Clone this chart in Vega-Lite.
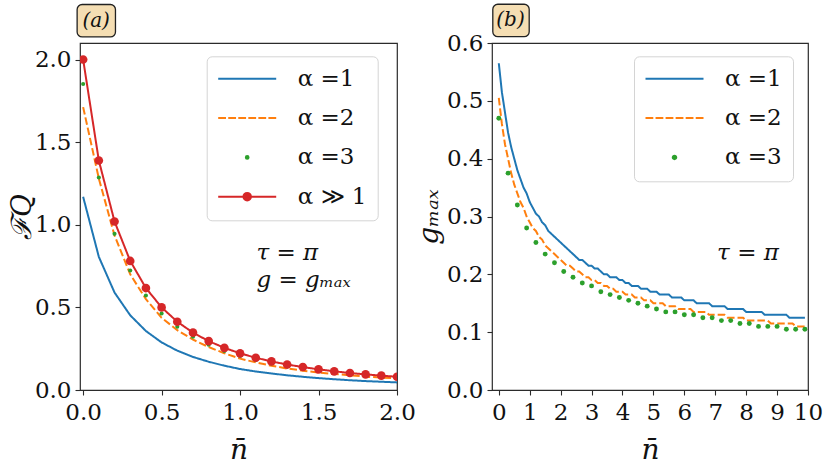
{
  "$schema": "https://vega.github.io/schema/vega-lite/v6.json",
  "padding": {"left": 7, "top": 3, "right": 0, "bottom": 0},
  "background": "white",
  "bounds": "flush",
  "spacing": 95,
  "config": {
    "font": "DejaVu Serif",
    "view": {"stroke": "#2b2b2b", "strokeWidth": 1.2},
    "axis": {
      "grid": false, "domain": false, "tickColor": "#2b2b2b", "tickSize": 5, "tickWidth": 1.1,
      "labelFont": "DejaVu Serif", "labelFontSize": 23, "labelColor": "#111", "labelPadding": 4,
      "labelFlush": false, "labelOverlap": false,
      "titleFont": "DejaVu Serif", "titleFontSize": 28, "titleFontWeight": "normal", "titleFontStyle": "italic", "titleColor": "#111"
    },
    "axisX": {"titlePadding": 12, "labelPadding": 6},
    "axisY": {"titlePadding": -2},
    "legend": {
      "orient": "none", "padding": 11,
      "labelFont": "DejaVu Serif", "labelFontSize": 23, "labelColor": "#111",
      "labelOffset": 39, "symbolOffset": 18, "symbolSize": 400, "symbolStrokeWidth": 2, "symbolOpacity": 1,
      "rowPadding": 15.3, "strokeColor": "#d4d4d4", "fillColor": "rgba(255,255,255,0.8)", "cornerRadius": 5
    }
  },
  "datasets": {
    "a": [
      {"s": "α =1", "n": 0, "v": 1.169}, {"s": "α =1", "n": 0.1, "v": 0.806}, {"s": "α =1", "n": 0.2, "v": 0.59},
      {"s": "α =1", "n": 0.3, "v": 0.452}, {"s": "α =1", "n": 0.4, "v": 0.357}, {"s": "α =1", "n": 0.5, "v": 0.288},
      {"s": "α =1", "n": 0.6, "v": 0.238}, {"s": "α =1", "n": 0.7, "v": 0.2}, {"s": "α =1", "n": 0.8, "v": 0.171},
      {"s": "α =1", "n": 0.9, "v": 0.147}, {"s": "α =1", "n": 1.0, "v": 0.127}, {"s": "α =1", "n": 1.1, "v": 0.112},
      {"s": "α =1", "n": 1.2, "v": 0.1}, {"s": "α =1", "n": 1.3, "v": 0.089}, {"s": "α =1", "n": 1.4, "v": 0.08},
      {"s": "α =1", "n": 1.5, "v": 0.072}, {"s": "α =1", "n": 1.6, "v": 0.065}, {"s": "α =1", "n": 1.7, "v": 0.059},
      {"s": "α =1", "n": 1.8, "v": 0.054}, {"s": "α =1", "n": 1.9, "v": 0.05}, {"s": "α =1", "n": 2.0, "v": 0.046},
      {"s": "α =2", "n": 0, "v": 1.712}, {"s": "α =2", "n": 0.1, "v": 1.28}, {"s": "α =2", "n": 0.2, "v": 0.935},
      {"s": "α =2", "n": 0.3, "v": 0.7}, {"s": "α =2", "n": 0.4, "v": 0.55}, {"s": "α =2", "n": 0.5, "v": 0.437},
      {"s": "α =2", "n": 0.6, "v": 0.362}, {"s": "α =2", "n": 0.7, "v": 0.305}, {"s": "α =2", "n": 0.8, "v": 0.26},
      {"s": "α =2", "n": 0.9, "v": 0.222}, {"s": "α =2", "n": 1.0, "v": 0.19}, {"s": "α =2", "n": 1.1, "v": 0.167},
      {"s": "α =2", "n": 1.2, "v": 0.147}, {"s": "α =2", "n": 1.3, "v": 0.13}, {"s": "α =2", "n": 1.4, "v": 0.117},
      {"s": "α =2", "n": 1.5, "v": 0.106}, {"s": "α =2", "n": 1.6, "v": 0.097}, {"s": "α =2", "n": 1.7, "v": 0.089},
      {"s": "α =2", "n": 1.8, "v": 0.081}, {"s": "α =2", "n": 1.9, "v": 0.075}, {"s": "α =2", "n": 2.0, "v": 0.07},
      {"s": "α =3", "n": 0, "v": 1.852}, {"s": "α =3", "n": 0.1, "v": 1.286}, {"s": "α =3", "n": 0.2, "v": 0.945},
      {"s": "α =3", "n": 0.3, "v": 0.723}, {"s": "α =3", "n": 0.4, "v": 0.572}, {"s": "α =3", "n": 0.5, "v": 0.463},
      {"s": "α =3", "n": 0.6, "v": 0.383}, {"s": "α =3", "n": 0.7, "v": 0.322}, {"s": "α =3", "n": 0.8, "v": 0.274},
      {"s": "α =3", "n": 0.9, "v": 0.236}, {"s": "α =3", "n": 1.0, "v": 0.206}, {"s": "α =3", "n": 1.1, "v": 0.181},
      {"s": "α =3", "n": 1.2, "v": 0.16}, {"s": "α =3", "n": 1.3, "v": 0.143}, {"s": "α =3", "n": 1.4, "v": 0.128},
      {"s": "α =3", "n": 1.5, "v": 0.116}, {"s": "α =3", "n": 1.6, "v": 0.105}, {"s": "α =3", "n": 1.7, "v": 0.096},
      {"s": "α =3", "n": 1.8, "v": 0.0875}, {"s": "α =3", "n": 1.9, "v": 0.08}, {"s": "α =3", "n": 2.0, "v": 0.074},
      {"s": "α ≫ 1", "n": 0, "v": 2.0}, {"s": "α ≫ 1", "n": 0.1, "v": 1.389}, {"s": "α ≫ 1", "n": 0.2, "v": 1.02},
      {"s": "α ≫ 1", "n": 0.3, "v": 0.781}, {"s": "α ≫ 1", "n": 0.4, "v": 0.617}, {"s": "α ≫ 1", "n": 0.5, "v": 0.5},
      {"s": "α ≫ 1", "n": 0.6, "v": 0.413}, {"s": "α ≫ 1", "n": 0.7, "v": 0.347}, {"s": "α ≫ 1", "n": 0.8, "v": 0.296},
      {"s": "α ≫ 1", "n": 0.9, "v": 0.255}, {"s": "α ≫ 1", "n": 1.0, "v": 0.222}, {"s": "α ≫ 1", "n": 1.1, "v": 0.195},
      {"s": "α ≫ 1", "n": 1.2, "v": 0.173}, {"s": "α ≫ 1", "n": 1.3, "v": 0.154}, {"s": "α ≫ 1", "n": 1.4, "v": 0.139},
      {"s": "α ≫ 1", "n": 1.5, "v": 0.125}, {"s": "α ≫ 1", "n": 1.6, "v": 0.113}, {"s": "α ≫ 1", "n": 1.7, "v": 0.103},
      {"s": "α ≫ 1", "n": 1.8, "v": 0.0945}, {"s": "α ≫ 1", "n": 1.9, "v": 0.0868}, {"s": "α ≫ 1", "n": 2.0, "v": 0.08}
    ],
    "b": [
      {"s": "α =1", "n": 0, "v": 0.565}, {"s": "α =1", "n": 0.1, "v": 0.515}, {"s": "α =1", "n": 0.2, "v": 0.48}, {"s": "α =1", "n": 0.3, "v": 0.445}, {"s": "α =1", "n": 0.4, "v": 0.42},
      {"s": "α =1", "n": 0.5, "v": 0.4}, {"s": "α =1", "n": 0.6, "v": 0.38}, {"s": "α =1", "n": 0.7, "v": 0.365}, {"s": "α =1", "n": 0.8, "v": 0.35}, {"s": "α =1", "n": 0.9, "v": 0.34},
      {"s": "α =1", "n": 1.0, "v": 0.325}, {"s": "α =1", "n": 1.1, "v": 0.315}, {"s": "α =1", "n": 1.2, "v": 0.305}, {"s": "α =1", "n": 1.3, "v": 0.3}, {"s": "α =1", "n": 1.4, "v": 0.29},
      {"s": "α =1", "n": 1.5, "v": 0.285}, {"s": "α =1", "n": 1.6, "v": 0.275}, {"s": "α =1", "n": 1.7, "v": 0.27}, {"s": "α =1", "n": 1.8, "v": 0.265}, {"s": "α =1", "n": 1.9, "v": 0.26},
      {"s": "α =1", "n": 2.0, "v": 0.255}, {"s": "α =1", "n": 2.1, "v": 0.25}, {"s": "α =1", "n": 2.2, "v": 0.245}, {"s": "α =1", "n": 2.3, "v": 0.24}, {"s": "α =1", "n": 2.4, "v": 0.235},
      {"s": "α =1", "n": 2.5, "v": 0.23}, {"s": "α =1", "n": 2.6, "v": 0.225}, {"s": "α =1", "n": 2.7, "v": 0.225}, {"s": "α =1", "n": 2.8, "v": 0.22}, {"s": "α =1", "n": 2.9, "v": 0.215},
      {"s": "α =1", "n": 3.0, "v": 0.215}, {"s": "α =1", "n": 3.1, "v": 0.21}, {"s": "α =1", "n": 3.2, "v": 0.21}, {"s": "α =1", "n": 3.3, "v": 0.205}, {"s": "α =1", "n": 3.4, "v": 0.2},
      {"s": "α =1", "n": 3.5, "v": 0.2}, {"s": "α =1", "n": 3.6, "v": 0.195}, {"s": "α =1", "n": 3.7, "v": 0.195}, {"s": "α =1", "n": 3.8, "v": 0.195}, {"s": "α =1", "n": 3.9, "v": 0.19},
      {"s": "α =1", "n": 4.0, "v": 0.19}, {"s": "α =1", "n": 4.1, "v": 0.185}, {"s": "α =1", "n": 4.2, "v": 0.185}, {"s": "α =1", "n": 4.3, "v": 0.18}, {"s": "α =1", "n": 4.4, "v": 0.18},
      {"s": "α =1", "n": 4.5, "v": 0.18}, {"s": "α =1", "n": 4.6, "v": 0.175}, {"s": "α =1", "n": 4.7, "v": 0.175}, {"s": "α =1", "n": 4.8, "v": 0.175}, {"s": "α =1", "n": 4.9, "v": 0.17},
      {"s": "α =1", "n": 5.0, "v": 0.17}, {"s": "α =1", "n": 5.1, "v": 0.17}, {"s": "α =1", "n": 5.2, "v": 0.165}, {"s": "α =1", "n": 5.3, "v": 0.165}, {"s": "α =1", "n": 5.4, "v": 0.165},
      {"s": "α =1", "n": 5.5, "v": 0.165}, {"s": "α =1", "n": 5.6, "v": 0.16}, {"s": "α =1", "n": 5.7, "v": 0.16}, {"s": "α =1", "n": 5.8, "v": 0.16}, {"s": "α =1", "n": 5.9, "v": 0.16},
      {"s": "α =1", "n": 6.0, "v": 0.155}, {"s": "α =1", "n": 6.1, "v": 0.155}, {"s": "α =1", "n": 6.2, "v": 0.155}, {"s": "α =1", "n": 6.3, "v": 0.155}, {"s": "α =1", "n": 6.4, "v": 0.15},
      {"s": "α =1", "n": 6.5, "v": 0.15}, {"s": "α =1", "n": 6.6, "v": 0.15}, {"s": "α =1", "n": 6.7, "v": 0.15}, {"s": "α =1", "n": 6.8, "v": 0.15}, {"s": "α =1", "n": 6.9, "v": 0.145},
      {"s": "α =1", "n": 7.0, "v": 0.145}, {"s": "α =1", "n": 7.1, "v": 0.145}, {"s": "α =1", "n": 7.2, "v": 0.145}, {"s": "α =1", "n": 7.3, "v": 0.145}, {"s": "α =1", "n": 7.4, "v": 0.14},
      {"s": "α =1", "n": 7.5, "v": 0.14}, {"s": "α =1", "n": 7.6, "v": 0.14}, {"s": "α =1", "n": 7.7, "v": 0.14}, {"s": "α =1", "n": 7.8, "v": 0.14}, {"s": "α =1", "n": 7.9, "v": 0.14},
      {"s": "α =1", "n": 8.0, "v": 0.135}, {"s": "α =1", "n": 8.1, "v": 0.135}, {"s": "α =1", "n": 8.2, "v": 0.135}, {"s": "α =1", "n": 8.3, "v": 0.135}, {"s": "α =1", "n": 8.4, "v": 0.135},
      {"s": "α =1", "n": 8.5, "v": 0.135}, {"s": "α =1", "n": 8.6, "v": 0.13}, {"s": "α =1", "n": 8.7, "v": 0.13}, {"s": "α =1", "n": 8.8, "v": 0.13}, {"s": "α =1", "n": 8.9, "v": 0.13},
      {"s": "α =1", "n": 9.0, "v": 0.13}, {"s": "α =1", "n": 9.1, "v": 0.13}, {"s": "α =1", "n": 9.2, "v": 0.13}, {"s": "α =1", "n": 9.3, "v": 0.13}, {"s": "α =1", "n": 9.4, "v": 0.125},
      {"s": "α =1", "n": 9.5, "v": 0.125}, {"s": "α =1", "n": 9.6, "v": 0.125}, {"s": "α =1", "n": 9.7, "v": 0.125}, {"s": "α =1", "n": 9.8, "v": 0.125}, {"s": "α =1", "n": 9.9, "v": 0.125},
      {"s": "α =2", "n": 0, "v": 0.505}, {"s": "α =2", "n": 0.1, "v": 0.46}, {"s": "α =2", "n": 0.2, "v": 0.425}, {"s": "α =2", "n": 0.3, "v": 0.4}, {"s": "α =2", "n": 0.4, "v": 0.375},
      {"s": "α =2", "n": 0.5, "v": 0.355}, {"s": "α =2", "n": 0.6, "v": 0.34}, {"s": "α =2", "n": 0.7, "v": 0.325}, {"s": "α =2", "n": 0.8, "v": 0.315}, {"s": "α =2", "n": 0.9, "v": 0.3},
      {"s": "α =2", "n": 1.0, "v": 0.29}, {"s": "α =2", "n": 1.1, "v": 0.28}, {"s": "α =2", "n": 1.2, "v": 0.275}, {"s": "α =2", "n": 1.3, "v": 0.265}, {"s": "α =2", "n": 1.4, "v": 0.26},
      {"s": "α =2", "n": 1.5, "v": 0.25}, {"s": "α =2", "n": 1.6, "v": 0.245}, {"s": "α =2", "n": 1.7, "v": 0.24}, {"s": "α =2", "n": 1.8, "v": 0.235}, {"s": "α =2", "n": 1.9, "v": 0.23},
      {"s": "α =2", "n": 2.0, "v": 0.225}, {"s": "α =2", "n": 2.1, "v": 0.22}, {"s": "α =2", "n": 2.2, "v": 0.215}, {"s": "α =2", "n": 2.3, "v": 0.215}, {"s": "α =2", "n": 2.4, "v": 0.21},
      {"s": "α =2", "n": 2.5, "v": 0.205}, {"s": "α =2", "n": 2.6, "v": 0.205}, {"s": "α =2", "n": 2.7, "v": 0.2}, {"s": "α =2", "n": 2.8, "v": 0.195}, {"s": "α =2", "n": 2.9, "v": 0.195},
      {"s": "α =2", "n": 3.0, "v": 0.19}, {"s": "α =2", "n": 3.1, "v": 0.19}, {"s": "α =2", "n": 3.2, "v": 0.185}, {"s": "α =2", "n": 3.3, "v": 0.185}, {"s": "α =2", "n": 3.4, "v": 0.18},
      {"s": "α =2", "n": 3.5, "v": 0.18}, {"s": "α =2", "n": 3.6, "v": 0.175}, {"s": "α =2", "n": 3.7, "v": 0.175}, {"s": "α =2", "n": 3.8, "v": 0.17}, {"s": "α =2", "n": 3.9, "v": 0.17},
      {"s": "α =2", "n": 4.0, "v": 0.17}, {"s": "α =2", "n": 4.1, "v": 0.165}, {"s": "α =2", "n": 4.2, "v": 0.165}, {"s": "α =2", "n": 4.3, "v": 0.165}, {"s": "α =2", "n": 4.4, "v": 0.16},
      {"s": "α =2", "n": 4.5, "v": 0.16}, {"s": "α =2", "n": 4.6, "v": 0.16}, {"s": "α =2", "n": 4.7, "v": 0.155}, {"s": "α =2", "n": 4.8, "v": 0.155}, {"s": "α =2", "n": 4.9, "v": 0.155},
      {"s": "α =2", "n": 5.0, "v": 0.15}, {"s": "α =2", "n": 5.1, "v": 0.15}, {"s": "α =2", "n": 5.2, "v": 0.15}, {"s": "α =2", "n": 5.3, "v": 0.15}, {"s": "α =2", "n": 5.4, "v": 0.145},
      {"s": "α =2", "n": 5.5, "v": 0.145}, {"s": "α =2", "n": 5.6, "v": 0.145}, {"s": "α =2", "n": 5.7, "v": 0.145}, {"s": "α =2", "n": 5.8, "v": 0.14}, {"s": "α =2", "n": 5.9, "v": 0.14},
      {"s": "α =2", "n": 6.0, "v": 0.14}, {"s": "α =2", "n": 6.1, "v": 0.14}, {"s": "α =2", "n": 6.2, "v": 0.14}, {"s": "α =2", "n": 6.3, "v": 0.135}, {"s": "α =2", "n": 6.4, "v": 0.135},
      {"s": "α =2", "n": 6.5, "v": 0.135}, {"s": "α =2", "n": 6.6, "v": 0.135}, {"s": "α =2", "n": 6.7, "v": 0.135}, {"s": "α =2", "n": 6.8, "v": 0.13}, {"s": "α =2", "n": 6.9, "v": 0.13},
      {"s": "α =2", "n": 7.0, "v": 0.13}, {"s": "α =2", "n": 7.1, "v": 0.13}, {"s": "α =2", "n": 7.2, "v": 0.13}, {"s": "α =2", "n": 7.3, "v": 0.13}, {"s": "α =2", "n": 7.4, "v": 0.125},
      {"s": "α =2", "n": 7.5, "v": 0.125}, {"s": "α =2", "n": 7.6, "v": 0.125}, {"s": "α =2", "n": 7.7, "v": 0.125}, {"s": "α =2", "n": 7.8, "v": 0.125}, {"s": "α =2", "n": 7.9, "v": 0.125},
      {"s": "α =2", "n": 8.0, "v": 0.12}, {"s": "α =2", "n": 8.1, "v": 0.12}, {"s": "α =2", "n": 8.2, "v": 0.12}, {"s": "α =2", "n": 8.3, "v": 0.12}, {"s": "α =2", "n": 8.4, "v": 0.12},
      {"s": "α =2", "n": 8.5, "v": 0.12}, {"s": "α =2", "n": 8.6, "v": 0.12}, {"s": "α =2", "n": 8.7, "v": 0.12}, {"s": "α =2", "n": 8.8, "v": 0.115}, {"s": "α =2", "n": 8.9, "v": 0.115},
      {"s": "α =2", "n": 9.0, "v": 0.115}, {"s": "α =2", "n": 9.1, "v": 0.115}, {"s": "α =2", "n": 9.2, "v": 0.115}, {"s": "α =2", "n": 9.3, "v": 0.115}, {"s": "α =2", "n": 9.4, "v": 0.115},
      {"s": "α =2", "n": 9.5, "v": 0.115}, {"s": "α =2", "n": 9.6, "v": 0.11}, {"s": "α =2", "n": 9.7, "v": 0.11}, {"s": "α =2", "n": 9.8, "v": 0.11}, {"s": "α =2", "n": 9.9, "v": 0.11},
      {"s": "α =3", "n": 0, "v": 0.47}, {"s": "α =3", "n": 0.3, "v": 0.375}, {"s": "α =3", "n": 0.6, "v": 0.32}, {"s": "α =3", "n": 0.9, "v": 0.28},
      {"s": "α =3", "n": 1.2, "v": 0.255}, {"s": "α =3", "n": 1.5, "v": 0.235}, {"s": "α =3", "n": 1.8, "v": 0.22}, {"s": "α =3", "n": 2.1, "v": 0.205},
      {"s": "α =3", "n": 2.4, "v": 0.195}, {"s": "α =3", "n": 2.7, "v": 0.185}, {"s": "α =3", "n": 3.0, "v": 0.18}, {"s": "α =3", "n": 3.3, "v": 0.17},
      {"s": "α =3", "n": 3.6, "v": 0.165}, {"s": "α =3", "n": 3.9, "v": 0.16}, {"s": "α =3", "n": 4.2, "v": 0.155}, {"s": "α =3", "n": 4.5, "v": 0.15},
      {"s": "α =3", "n": 4.8, "v": 0.145}, {"s": "α =3", "n": 5.1, "v": 0.14}, {"s": "α =3", "n": 5.4, "v": 0.135}, {"s": "α =3", "n": 5.7, "v": 0.135},
      {"s": "α =3", "n": 6.0, "v": 0.13}, {"s": "α =3", "n": 6.3, "v": 0.13}, {"s": "α =3", "n": 6.6, "v": 0.125}, {"s": "α =3", "n": 6.9, "v": 0.125},
      {"s": "α =3", "n": 7.2, "v": 0.12}, {"s": "α =3", "n": 7.5, "v": 0.12}, {"s": "α =3", "n": 7.8, "v": 0.115}, {"s": "α =3", "n": 8.1, "v": 0.115},
      {"s": "α =3", "n": 8.4, "v": 0.11}, {"s": "α =3", "n": 8.7, "v": 0.11}, {"s": "α =3", "n": 9.0, "v": 0.11}, {"s": "α =3", "n": 9.3, "v": 0.105},
      {"s": "α =3", "n": 9.6, "v": 0.105}, {"s": "α =3", "n": 9.9, "v": 0.105}
    ],
    "noteA": [
      {"n": 1.104, "v": 0.829, "t": "τ = π"},
      {"n": 1.104, "v": 0.665, "t": "g = gₘₐₓ"}
    ],
    "tagA": [
      {"n": 0.083, "v": 2.236, "t": "(a)", "n0": -0.0383, "n2": 0.206, "v0": 2.333, "v2": 2.137}
    ],
    "noteB": [
      {"n": 7.06, "v": 0.2374, "t": "τ = π"}
    ],
    "tagB": [
      {"n": 0.378, "v": 0.639, "t": "(b)", "n0": -0.194, "n2": 0.983, "v0": 0.667, "v2": 0.611}
    ]
  },
  "resolve": {"scale": {"color": "independent", "fill": "independent", "stroke": "independent", "shape": "independent", "strokeDash": "independent"}},
  "hconcat": [
    {
      "width": 317,
      "height": 347,
      "data": {"name": "a"},
      "encoding": {
        "x": {"field": "n", "type": "quantitative", "title": "n\u0304",
              "scale": {"domain": [-0.02, 2.0], "nice": false, "zero": false},
              "axis": {"values": [0, 0.5, 1, 1.5, 2], "format": ".1f"}},
        "y": {"field": "v", "type": "quantitative", "title": "ℱQ",
              "scale": {"domain": [0, 2.1], "nice": false},
              "axis": {"values": [0, 0.5, 1, 1.5, 2], "format": ".1f"}}
      },
      "layer": [
        {
          "transform": [{"filter": {"field": "s", "oneOf": ["α =1", "α =2", "α ≫ 1"]}}],
          "mark": {"type": "line", "strokeWidth": 2, "clip": true},
          "encoding": {
            "color": {"field": "s", "type": "nominal", "legend": null,
                      "scale": {"domain": ["α =1", "α =2", "α ≫ 1"], "range": ["#1f77b4", "#ff7f0e", "#d62728"]}},
            "strokeDash": {"field": "s", "type": "nominal", "legend": null,
                           "scale": {"domain": ["α =1", "α =2", "α ≫ 1"], "range": [[1, 0], [7.5, 3], [1, 0]]}}
          }
        },
        {
          "transform": [{"filter": {"field": "s", "equal": "α =3"}}],
          "mark": {"type": "point", "filled": true, "opacity": 1, "size": 17, "color": "#2ca02c", "clip": true},
          "encoding": {}
        },
        {
          "transform": [{"filter": {"field": "s", "equal": "α ≫ 1"}}],
          "mark": {"type": "point", "filled": true, "opacity": 1, "size": 75, "color": "#d62728", "clip": true},
          "encoding": {}
        },
        {
          "transform": [{"filter": {"field": "n", "equal": 0}}],
          "mark": {"type": "point", "filled": true, "opacity": 0},
          "encoding": {
            "fill": {"field": "s", "type": "nominal", "title": null,
                     "scale": {"domain": ["α =1", "α =2", "α =3", "α ≫ 1"], "range": ["#1f77b4", "#ff7f0e", "#2ca02c", "#d62728"]},
                     "legend": {"legendX": 126.7, "legendY": 13.3}},
            "stroke": {"field": "s", "type": "nominal", "title": null,
                       "scale": {"domain": ["α =1", "α =2", "α =3", "α ≫ 1"], "range": ["#1f77b4", "#ff7f0e", "#2ca02c", "#d62728"]},
                       "legend": {"legendX": 126.7, "legendY": 13.3}},
            "shape": {"field": "s", "type": "nominal", "title": null,
                      "scale": {"domain": ["α =1", "α =2", "α =3", "α ≫ 1"],
                                "range": ["M-2.9,0L2.9,0",
                                          "M-2.9,0L-2.12,0M-1.896,0L-1.116,0M-0.892,0L-0.112,0M0.112,0L0.892,0M1.116,0L1.896,0M2.12,0L2.9,0",
                                          "M-0.135,0A0.135,0.135,0,1,0,0.135,0A0.135,0.135,0,1,0,-0.135,0Z",
                                          "M-2.9,0L2.9,0M-0.375,0A0.375,0.375,0,1,0,0.375,0A0.375,0.375,0,1,0,-0.375,0Z"]},
                      "legend": {"legendX": 126.7, "legendY": 13.3}}
          }
        },
        {
          "data": {"name": "noteA"},
          "mark": {"type": "text", "align": "left", "baseline": "middle", "fontSize": 23, "fontStyle": "italic", "color": "#111"},
          "encoding": {"text": {"field": "t"}}
        },
        {
          "data": {"name": "tagA"},
          "mark": {"type": "rect", "fill": "#f5deb3", "stroke": "#222", "strokeWidth": 1.3, "cornerRadius": 5},
          "encoding": {
            "x": {"field": "n0", "type": "quantitative", "title": "n\u0304"},
            "x2": {"field": "n2"},
            "y": {"field": "v0", "type": "quantitative", "title": "ℱQ"},
            "y2": {"field": "v2"}
          }
        },
        {
          "data": {"name": "tagA"},
          "mark": {"type": "text", "align": "center", "baseline": "middle", "fontSize": 20, "fontStyle": "italic", "color": "#111"},
          "encoding": {"text": {"field": "t"}}
        }
      ]
    },
    {
      "width": 316,
      "height": 347,
      "data": {"name": "b"},
      "encoding": {
        "x": {"field": "n", "type": "quantitative", "title": "n\u0304",
              "scale": {"domain": [-0.22, 10], "nice": false, "zero": false},
              "axis": {"values": [0, 1, 2, 3, 4, 5, 6, 7, 8, 9, 10], "format": "d"}},
        "y": {"field": "v", "type": "quantitative", "title": "gₘₐₓ",
              "scale": {"domain": [0, 0.6], "nice": false},
              "axis": {"values": [0, 0.1, 0.2, 0.3, 0.4, 0.5, 0.6], "format": ".1f", "titlePadding": 3}}
      },
      "layer": [
        {
          "transform": [{"filter": {"field": "s", "oneOf": ["α =1", "α =2"]}}],
          "mark": {"type": "line", "strokeWidth": 2, "clip": true},
          "encoding": {
            "color": {"field": "s", "type": "nominal", "legend": null,
                      "scale": {"domain": ["α =1", "α =2"], "range": ["#1f77b4", "#ff7f0e"]}},
            "strokeDash": {"field": "s", "type": "nominal", "legend": null,
                           "scale": {"domain": ["α =1", "α =2"], "range": [[1, 0], [7.5, 3]]}}
          }
        },
        {
          "transform": [{"filter": {"field": "s", "equal": "α =3"}}],
          "mark": {"type": "point", "filled": true, "opacity": 1, "size": 24, "color": "#2ca02c", "clip": true},
          "encoding": {}
        },
        {
          "transform": [{"filter": {"field": "n", "equal": 0}}],
          "mark": {"type": "point", "filled": true, "opacity": 0},
          "encoding": {
            "fill": {"field": "s", "type": "nominal", "title": null,
                     "scale": {"domain": ["α =1", "α =2", "α =3"], "range": ["#1f77b4", "#ff7f0e", "#2ca02c"]},
                     "legend": {"legendX": 142, "legendY": 13.3}},
            "stroke": {"field": "s", "type": "nominal", "title": null,
                       "scale": {"domain": ["α =1", "α =2", "α =3"], "range": ["#1f77b4", "#ff7f0e", "#2ca02c"]},
                       "legend": {"legendX": 142, "legendY": 13.3}},
            "shape": {"field": "s", "type": "nominal", "title": null,
                      "scale": {"domain": ["α =1", "α =2", "α =3"],
                                "range": ["M-2.9,0L2.9,0",
                                          "M-2.9,0L-2.12,0M-1.896,0L-1.116,0M-0.892,0L-0.112,0M0.112,0L0.892,0M1.116,0L1.896,0M2.12,0L2.9,0",
                                          "M-0.175,0A0.175,0.175,0,1,0,0.175,0A0.175,0.175,0,1,0,-0.175,0Z"]},
                      "legend": {"legendX": 142, "legendY": 13.3}}
          }
        },
        {
          "data": {"name": "noteB"},
          "mark": {"type": "text", "align": "left", "baseline": "middle", "fontSize": 23, "fontStyle": "italic", "color": "#111"},
          "encoding": {"text": {"field": "t"}}
        },
        {
          "data": {"name": "tagB"},
          "mark": {"type": "rect", "fill": "#f5deb3", "stroke": "#222", "strokeWidth": 1.3, "cornerRadius": 5},
          "encoding": {
            "x": {"field": "n0", "type": "quantitative", "title": "n\u0304"},
            "x2": {"field": "n2"},
            "y": {"field": "v0", "type": "quantitative", "title": "gₘₐₓ"},
            "y2": {"field": "v2"}
          }
        },
        {
          "data": {"name": "tagB"},
          "mark": {"type": "text", "align": "center", "baseline": "middle", "fontSize": 20, "fontStyle": "italic", "color": "#111"},
          "encoding": {"text": {"field": "t"}}
        }
      ]
    }
  ]
}
